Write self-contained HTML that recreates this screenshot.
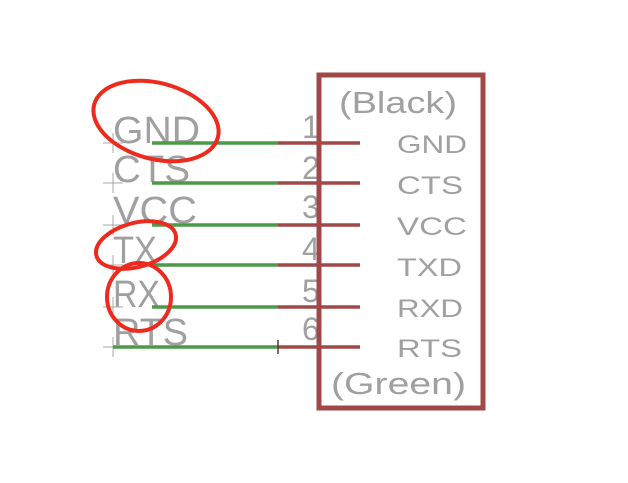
<!DOCTYPE html>
<html><head><style>body{margin:0;background:#fff}</style></head><body>
<svg width="628" height="478" xmlns="http://www.w3.org/2000/svg" font-family="Liberation Sans, sans-serif">
<rect width="628" height="478" fill="#fff"/>
<g fill="#a0a0a0" font-size="38" lengthAdjust="spacingAndGlyphs">
<text x="113" y="143" textLength="87" lengthAdjust="spacingAndGlyphs">GND</text>
<text x="113" y="182" textLength="77" lengthAdjust="spacingAndGlyphs">CTS</text>
<text x="113" y="223" textLength="84" lengthAdjust="spacingAndGlyphs">VCC</text>
<text x="113" y="263" textLength="44" lengthAdjust="spacingAndGlyphs">TX</text>
<text x="113" y="307" textLength="47" lengthAdjust="spacingAndGlyphs">RX</text>
<text x="113" y="345" textLength="75" lengthAdjust="spacingAndGlyphs">RTS</text>
</g>
<g fill="#a0a0a0" font-size="32">
<text x="302" y="138">1</text><text x="302" y="179">2</text><text x="302" y="218">3</text>
<text x="302" y="260">4</text><text x="302" y="302">5</text><text x="302" y="340">6</text>
</g>
<g fill="#a0a0a0" font-size="25">
<text x="397" y="153" textLength="70" lengthAdjust="spacingAndGlyphs">GND</text>
<text x="397" y="194" textLength="66" lengthAdjust="spacingAndGlyphs">CTS</text>
<text x="397" y="235" textLength="70" lengthAdjust="spacingAndGlyphs">VCC</text>
<text x="397" y="276" textLength="65" lengthAdjust="spacingAndGlyphs">TXD</text>
<text x="397" y="317" textLength="66" lengthAdjust="spacingAndGlyphs">RXD</text>
<text x="397" y="357" textLength="65" lengthAdjust="spacingAndGlyphs">RTS</text>
</g>
<g fill="#a0a0a0" font-size="31">
<text x="339" y="113" textLength="118" lengthAdjust="spacingAndGlyphs">(Black)</text>
<text x="331" y="394" textLength="135" lengthAdjust="spacingAndGlyphs">(Green)</text>
</g>
<g stroke="#aaa" stroke-width="1">
<path d="M103 143h20M113 133v20M103 183h20M113 173v20M103 225h20M113 215v20M103 265h20M113 255v20M103 307h20M113 297v20M103 347h20M113 337v20"/>
</g>
<g stroke="#4a9a48" stroke-width="3.5">
<path d="M152 143H278M152 183H278M152 225H278M152 265H278M152 307H278M113 347H278"/>
</g>
<g stroke="#a04848" stroke-width="3.5">
<path d="M278 143H360M278 183H360M278 225H360M278 265H360M278 307H360M278 347H360"/>
</g>
<path d="M278 340v14" stroke="#5a3a30" stroke-width="1.5"/>
<rect x="319" y="75" width="164" height="333" fill="none" stroke="#a04848" stroke-width="5"/>
<g fill="none" stroke="#ee2a1e" stroke-width="4">
<ellipse cx="156" cy="121" rx="64" ry="38" transform="rotate(15 156 121)"/>
<ellipse cx="136" cy="245" rx="41" ry="22" transform="rotate(-15 136 245)"/>
<ellipse cx="139" cy="297" rx="32" ry="34"/>
</g>
</svg>
</body></html>
